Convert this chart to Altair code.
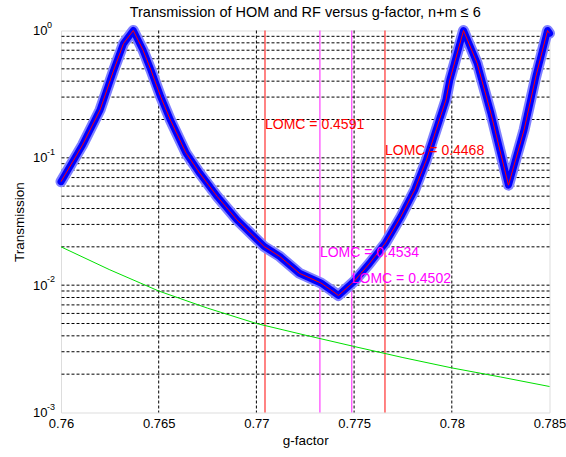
import altair as alt
import pandas as pd

# ---- data ----
g_curve = [0.7600, 0.7611, 0.7620, 0.7627, 0.7632, 0.7637, 0.7642, 0.7646, 0.7651,
           0.7656, 0.7664, 0.7671, 0.7680, 0.7690, 0.7704, 0.7712, 0.7722, 0.7733,
           0.7738, 0.7742, 0.7750, 0.7758, 0.7766, 0.7774, 0.7781, 0.7787, 0.7792,
           0.7797, 0.7799, 0.7806, 0.7813, 0.7820, 0.7829, 0.7837, 0.7843, 0.7849,
           0.7850]
t_curve = [0.065, 0.126, 0.238, 0.49, 0.79, 1.0, 0.70, 0.49, 0.302,
           0.198, 0.109, 0.0757, 0.0496, 0.0326, 0.0201, 0.0168, 0.0124, 0.0104,
           0.0092, 0.0083, 0.0107, 0.0149, 0.0214, 0.0346, 0.056, 0.0963, 0.166,
           0.285, 0.409, 1.0, 0.552, 0.224, 0.061, 0.166, 0.434, 1.0,
           0.95]

g_green = [0.760, 0.7625, 0.765, 0.7675, 0.770, 0.7725, 0.775, 0.7775, 0.780, 0.7825, 0.785]
t_green = [0.020, 0.0132, 0.0090, 0.0066, 0.0050, 0.00405, 0.0033, 0.0027, 0.00224, 0.0019, 0.0016]

red_lines = [0.77044, 0.77658]
magenta_lines = [0.77325, 0.77488]
red_labels = ["LOMC = 0.4591", "LOMC = 0.4468"]
red_label_y = [0.181, 0.114]
magenta_labels = ["LOMC = 0.4534", "LOMC = 0.4502"]
magenta_label_y = [0.018, 0.0111]

x_ticks = [0.76, 0.765, 0.77, 0.775, 0.78, 0.785]
x_grid = [0.765, 0.77, 0.775, 0.78]
y_ticks = [0.001, 0.01, 0.1, 1]
y_exps = ["-3", "-2", "-1", "0"]
y_grid = [0.002, 0.003, 0.004, 0.005, 0.006, 0.007, 0.008, 0.009, 0.01,
          0.02, 0.03, 0.04, 0.05, 0.06, 0.07, 0.08, 0.09, 0.1,
          0.2, 0.3, 0.4, 0.5, 0.6, 0.7, 0.8, 0.9]

FONT = "Liberation Sans"
xs = alt.Scale(domain=[0.76, 0.785], nice=False, zero=False)
ys = alt.Scale(type="log", domain=[0.001, 1], nice=False)

curve = pd.DataFrame({"g": g_curve, "t": t_curve})
green = pd.DataFrame({"g": g_green, "t": t_green})

X = alt.X("g:Q", scale=xs, title="g-factor",
          axis=alt.Axis(values=x_ticks, format=".3~f", grid=False, ticks=False, domain=False,
                        labelFontSize=13, labelFont=FONT, labelColor="#000", labelPadding=5,
                        titleFontSize=13.5, titleFont=FONT, titleFontWeight="normal",
                        titleColor="#000", titlePadding=3, labelFlush=False))
Y = alt.Y("t:Q", scale=ys, title="Transmission",
          axis=alt.Axis(values=y_ticks, labelExpr="'10'", grid=False, ticks=False, domain=False,
                        labelFontSize=13, labelFont=FONT, labelColor="#000", labelPadding=14,
                        titleFontSize=13.5, titleFont=FONT, titleFontWeight="normal",
                        titleColor="#000", titlePadding=6, labelFlush=False))

xgrid = alt.Chart(pd.DataFrame({"g": x_grid})).mark_rule(
    color="#000", strokeDash=[3, 2], strokeWidth=1).encode(x=X)
ygrid = alt.Chart(pd.DataFrame({"t": y_grid})).mark_rule(
    color="#000", strokeDash=[3, 2], strokeWidth=1).encode(y=Y)

rl = alt.Chart(pd.DataFrame({"g": red_lines})).mark_rule(color="#ff3030", strokeWidth=1.2).encode(x=X)
ml = alt.Chart(pd.DataFrame({"g": magenta_lines})).mark_rule(color="#ff40ff", strokeWidth=1.2).encode(x=X)

green_line = alt.Chart(green).mark_line(color="#00e000", strokeWidth=1).encode(x=X, y=Y)

band_outer = alt.Chart(curve).mark_line(color="#8080ff", strokeWidth=11, strokeJoin="round",
                                        strokeCap="round").encode(x=X, y=Y)
band_inner = alt.Chart(curve).mark_line(color="#0000ff", strokeWidth=7, strokeJoin="round",
                                        strokeCap="round").encode(x=X, y=Y)
red_curve = alt.Chart(curve).mark_line(color="#ff0000", strokeWidth=1).encode(x=X, y=Y)

rtext = alt.Chart(pd.DataFrame({"g": red_lines, "t": red_label_y, "s": red_labels})).mark_text(
    align="left", baseline="middle", fontSize=14, font=FONT, color="#ff0000").encode(
    x=X, y=Y, text="s:N")
mtext = alt.Chart(pd.DataFrame({"g": magenta_lines, "t": magenta_label_y, "s": magenta_labels})).mark_text(
    align="left", baseline="middle", fontSize=14, font=FONT, color="#ff00ff").encode(
    x=X, y=Y, text="s:N")

exps = alt.Chart(pd.DataFrame({"t": y_ticks, "s": y_exps})).mark_text(
    align="left", baseline="middle", fontSize=9, font=FONT, color="#000", dy=-6).encode(
    x=alt.value(-14), y=Y, text="s:N")

chart = alt.layer(
    xgrid, ygrid, rl, ml, green_line, band_outer, band_inner, red_curve, rtext, mtext, exps
).properties(
    width=488.5, height=382,
    title=alt.TitleParams("Transmission of HOM and RF versus g-factor, n+m \u2264 6",
                          fontSize=14.5, font=FONT, fontWeight="normal", color="#000",
                          anchor="middle", offset=0),
    padding={"left": 61, "top": 30.5, "right": 16.5, "bottom": 44.5},
    autosize=alt.AutoSizeParams(type="none"),
).configure_view(stroke="#000", strokeWidth=1).configure(background="white")

chart.save("out.html", embed_options={"renderer": "svg", "actions": False})
